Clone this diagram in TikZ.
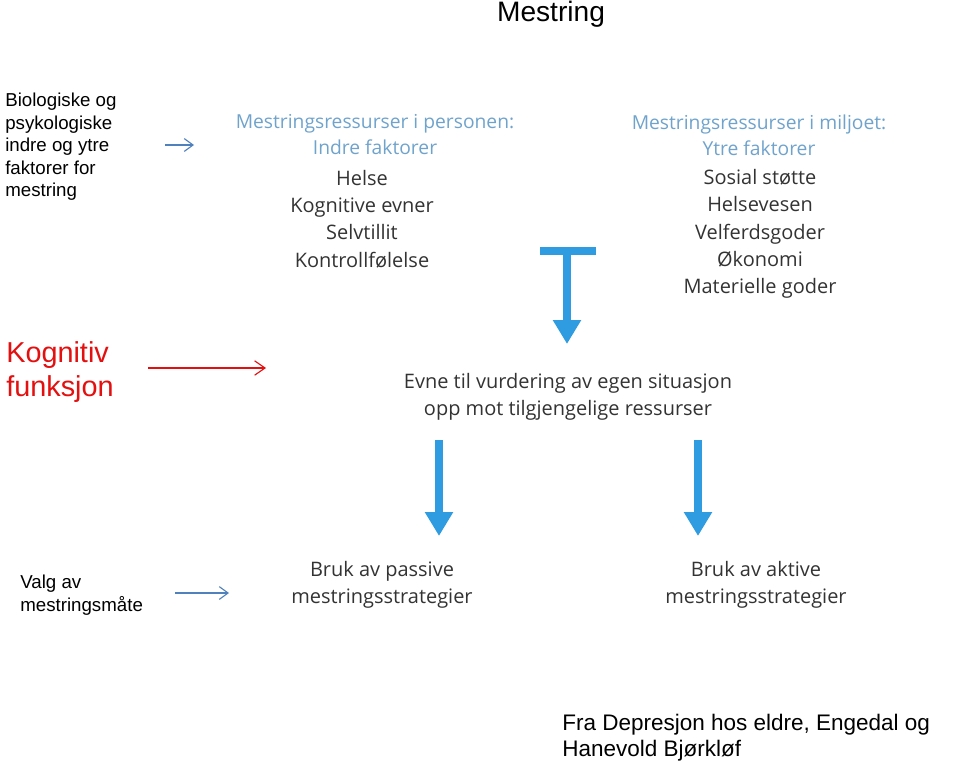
\documentclass[tikz,border=0pt]{standalone}
\usepackage{fontspec}
\setmainfont{Liberation Sans}
\newfontfamily\imgfont{Open Sans}
\usetikzlibrary{arrows.meta}
\definecolor{slideblue}{HTML}{4F81BD}
\definecolor{slidered}{HTML}{E3100F}
\definecolor{headblue}{HTML}{6FA3CC}
\definecolor{textgray}{HTML}{333333}
\definecolor{arrowblue}{HTML}{2F9BE0}

\tikzset{
  slidearrow/.style={thick,slideblue,-{Straight Barb[length=2.2mm,width=3.2mm]}},
  redarrow/.style={thick,slidered,-{Straight Barb[length=2.6mm,width=3.6mm]}},
  bigarrow/.style={line width=5pt,arrowblue,-{Triangle[length=17pt,width=19pt]}},
  imghead/.style={font=\imgfont\fontsize{13.7}{18.5}\selectfont,text=headblue,align=center,inner sep=0pt},
  imgtext/.style={font=\imgfont\fontsize{14.2}{19.4}\selectfont,text=textgray,align=center,inner sep=0pt},
  sidetext/.style={font=\fontsize{13.3}{16}\selectfont,align=left,anchor=west,inner sep=0pt}
}

\begin{document}
\begin{tikzpicture}[x=0.025cm,y=-0.025cm]

\useasboundingbox (0,0) rectangle (960,762);

% title
\node (title) at (551,14) {\fontsize{20}{24}\selectfont Mestring};

% left side labels
\node[sidetext] (bio) at (5,147) {Biologiske og\\psykologiske\\indre og ytre\\faktorer for\\mestring};
\node[sidetext,text=slidered,font=\fontsize{20.5}{24.2}\selectfont] (kog) at (6,372) {Kognitiv\\funksjon};
\node[sidetext] (valg) at (20,595) {Valg av\\mestringsmåte};

\coordinate (bioA) at (165,145);
\coordinate (bioB) at (194,145);
\coordinate (kogA) at (148,368);
\coordinate (kogB) at (266,368);
\coordinate (valgA) at (175,593);
\coordinate (valgB) at (229,593);

\draw[slidearrow] (bioA) -- (bioB);
\draw[redarrow] (kogA) -- (kogB);
\draw[slidearrow] (valgA) -- (valgB);

% resources
\node[imghead] (indrehead) at (375,135) {Mestringsressurser i personen:\\Indre faktorer};
\node[imgtext] (indre) at (362,219) {Helse\\Kognitive evner\\Selvtillit\\Kontrollfølelse};

\node[imghead] (ytrehead) at (759,135) {Mestringsressurser i miljoet:\\Ytre faktorer};
\node[imgtext] (ytre) at (760,234) {Sosial støtte\\Helsevesen\\Velferdsgoder\\Økonomi\\Materielle goder};

% T-arrow
\coordinate (tL) at (540,251);
\coordinate (tR) at (596,251);
\coordinate (tM) at (567,251);
\coordinate (tEnd) at (567,344);
\draw[line width=6pt,arrowblue] (tL) -- (tR);
\draw[bigarrow] (tM) -- (tEnd);

\node[imgtext] (evne) at (568,397) {Evne til vurdering av egen situasjon\\opp mot tilgjengelige ressurser};

% choices
\coordinate (pasA) at (439,440);
\coordinate (pasB) at (439,536);
\coordinate (aktA) at (698,440);
\coordinate (aktB) at (698,536);
\draw[bigarrow] (pasA) -- (pasB);
\draw[bigarrow] (aktA) -- (aktB);

\node[imgtext] (passiv) at (382,585) {Bruk av passive\\mestringsstrategier};
\node[imgtext] (aktiv) at (756,585) {Bruk av aktive\\mestringsstrategier};

% source
\node[sidetext,font=\fontsize{16}{18.5}\selectfont] (kilde) at (562,738) {Fra Depresjon hos eldre, Engedal og\\Hanevold Bjørkløf};

\end{tikzpicture}
\end{document}
